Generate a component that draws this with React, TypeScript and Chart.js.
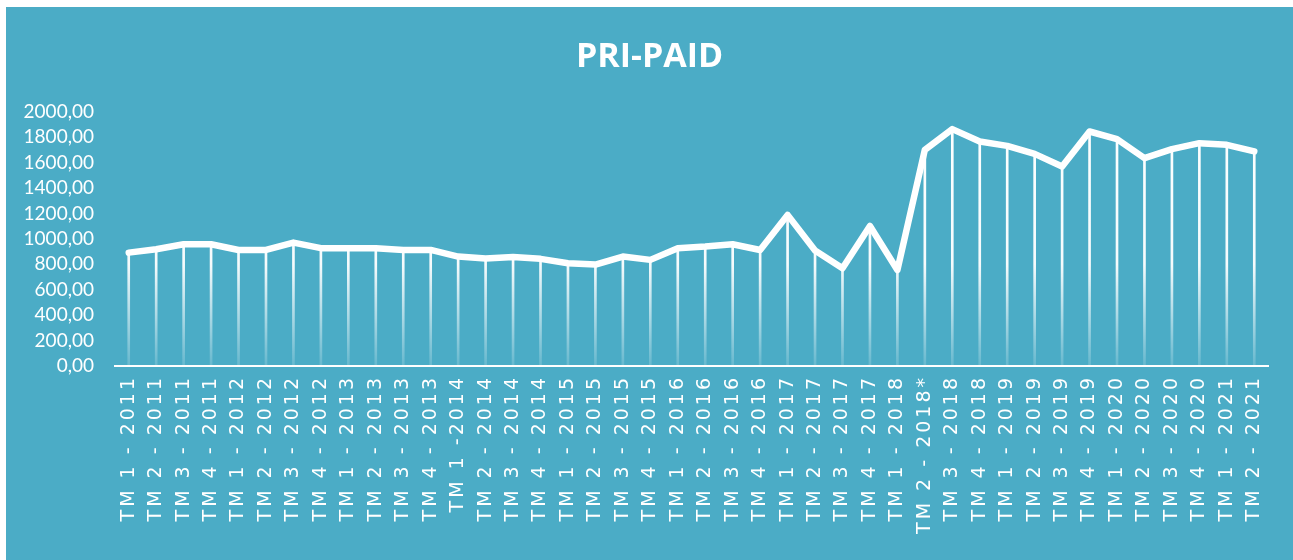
import React, { useEffect, useRef } from "react";
import { Chart, registerables } from "chart.js";

Chart.register(...registerables);

const TITLE = "PRI-PAID";

const categories = [
  "TM 1 - 2011", "TM 2 - 2011", "TM 3 - 2011", "TM 4 - 2011",
  "TM 1 - 2012", "TM 2 - 2012", "TM 3 - 2012", "TM 4 - 2012",
  "TM 1 - 2013", "TM 2 - 2013", "TM 3 - 2013", "TM 4 - 2013",
  "TM 1 -2014", "TM 2 - 2014", "TM 3 - 2014", "TM 4 - 2014",
  "TM 1 - 2015", "TM 2 - 2015", "TM 3 - 2015", "TM 4 - 2015",
  "TM 1 - 2016", "TM 2 - 2016", "TM 3 - 2016", "TM 4 - 2016",
  "TM 1 - 2017", "TM 2 - 2017", "TM 3 - 2017", "TM 4 - 2017",
  "TM 1 - 2018", "TM 2 - 2018*", "TM 3 - 2018", "TM 4 - 2018",
  "TM 1 - 2019", "TM 2 - 2019", "TM 3 - 2019", "TM 4 - 2019",
  "TM 1 - 2020", "TM 2 - 2020", "TM 3 - 2020", "TM 4 - 2020",
  "TM 1 - 2021", "TM 2 - 2021",
];

const values = [
  892, 919, 958, 958,
  913, 913, 971, 927,
  927, 927, 913, 913,
  861, 845, 858, 843,
  809, 798, 861, 835,
  927, 940, 958, 913,
  1189, 908, 769, 1102,
  756, 1701, 1864, 1766,
  1732, 1669, 1570, 1845,
  1785, 1635, 1706, 1753,
  1740, 1688,
];

const yTicks = [0, 200, 400, 600, 800, 1000, 1200, 1400, 1600, 1800, 2000];

const BG = "#4BACC6";

export default function App() {
  const ref = useRef<HTMLCanvasElement>(null);

  useEffect(() => {
    const canvas = ref.current;
    if (!canvas) return;

    const dropGradient = (ctx: any) => {
      const chart = ctx.chart;
      const area = chart.chartArea;
      if (!area) return "rgba(255,255,255,0.9)";
      const g = chart.ctx.createLinearGradient(0, area.top, 0, area.bottom);
      g.addColorStop(0, "rgba(255,255,255,1)");
      g.addColorStop(0.6, "rgba(255,255,255,0.95)");
      g.addColorStop(1, "rgba(255,255,255,0.15)");
      return g;
    };

    const chart = new Chart(canvas, {
      data: {
        labels: categories,
        datasets: [
          {
            type: "line",
            data: values,
            borderColor: "#ffffff",
            borderWidth: 6.5,
            pointRadius: 0,
            pointHoverRadius: 0,
            borderCapStyle: "round",
            borderJoinStyle: "round",
            tension: 0,
            order: 0,
          } as any,
          {
            type: "bar",
            data: values,
            backgroundColor: dropGradient,
            barThickness: 2,
            order: 1,
          } as any,
        ],
      },
      options: {
        animation: false,
        responsive: false,
        maintainAspectRatio: false,
        layout: { padding: 0 },
        plugins: {
          legend: { display: false },
          tooltip: { enabled: false },
          title: {
            display: true,
            text: TITLE,
            color: "#ffffff",
            font: { family: "'Open Sans', sans-serif", size: 34, weight: "bold" },
            padding: { top: 30, bottom: 34 },
          },
        },
        scales: {
          x: {
            type: "category",
            offset: true,
            grid: { display: false, drawTicks: false },
            border: { display: true, color: "#ffffff", width: 2 },
            ticks: {
              color: "#ffffff",
              font: { family: "'DejaVu Sans', sans-serif", size: 19 },
              minRotation: 90,
              maxRotation: 90,
              autoSkip: false,
              padding: 9,
            },
            afterFit: (s: any) => {
              s.height = 194;
            },
          },
          y: {
            position: "left",
            min: 0,
            max: 2000,
            afterBuildTicks: (s: any) => {
              s.ticks = yTicks.map((v) => ({ value: v }));
            },
            grid: { display: false, drawTicks: false },
            border: { display: false },
            ticks: {
              color: "#ffffff",
              font: { family: "Lato, sans-serif", size: 19 },
              padding: 21,
              autoSkip: false,
              callback: (v: any) => Number(v).toFixed(2).replace(".", ","),
            },
            afterFit: (s: any) => {
              s.width = 109;
            },
          },
          yRight: {
            position: "right",
            display: true,
            min: 0,
            max: 2000,
            grid: { display: false, drawTicks: false },
            border: { display: false },
            ticks: { display: false },
            afterFit: (s: any) => {
              s.width = 25;
            },
          },
        },
      } as any,
    });

    const xs: any = chart.scales.x;
    const origDraw = xs.drawLabels.bind(xs);
    xs.drawLabels = (area: any) => {
      const c: any = xs.ctx;
      c.save();
      c.letterSpacing = "3px";
      origDraw(area);
      c.restore();
    };
    chart.draw();

    return () => {
      chart.destroy();
    };
  }, []);

  return (
    <div
      style={{
        position: "absolute",
        left: 6,
        top: 7,
        width: 1287,
        height: 553,
        background: BG,
      }}
    >
      <canvas ref={ref} width={1287} height={553} style={{ display: "block" }} />
    </div>
  );
}
